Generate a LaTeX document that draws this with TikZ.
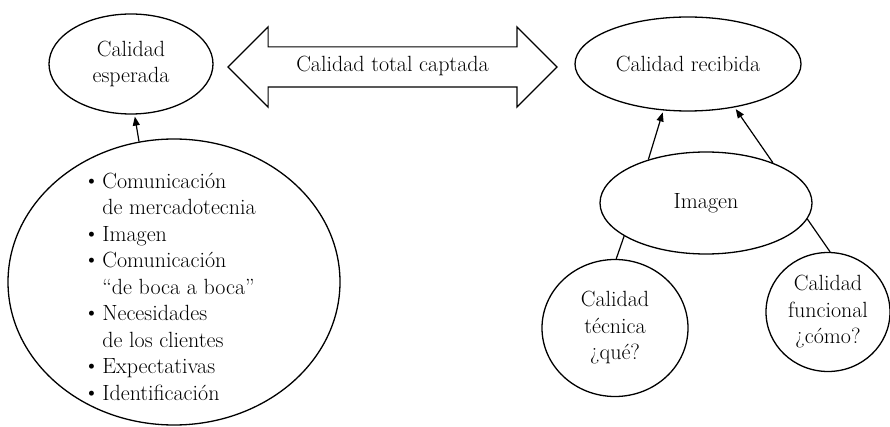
\documentclass[tikz,border=0pt]{standalone}
\usetikzlibrary{shapes.geometric,shapes.arrows,arrows.meta}
\newcommand{\punto}{\raisebox{1pt}[0pt][0pt]{\fontsize{22}{22}\selectfont\textbullet}}
\begin{document}
\begin{tikzpicture}
	[x=1pt,y=-1pt,
		every node/.style={font=\fontsize{22}{26.5}\selectfont},
		oval/.style={ellipse,draw,line width=1.3pt,inner sep=0pt,align=center},
		flecha/.style={-{Triangle[length=9pt,width=7pt]},line width=1.2pt,shorten >=2pt},
		enlace/.style={line width=1.2pt}]
	\useasboundingbox (0,0) rectangle (890,427);
	\node[oval,minimum width=164pt,minimum height=100pt] (esperada) at (131,64) {Calidad\\esperada};
	\node[oval,minimum width=226pt,minimum height=94pt] (recibida) at (688,64) {Calidad recibida};
	\node[double arrow,draw,line width=1.2pt,minimum height=329pt,double arrow head extend=20pt,
		text height=13pt,text depth=4pt,inner ysep=11pt,inner xsep=0pt] (captada) at (392.5,67) {Calidad total captada};
	\node[oval,minimum width=332pt,minimum height=286pt] (lista) at (174,282) {};
	\node[anchor=west,align=left] (items) at (80,289) {%
		\begin{tabular}{@{}l@{\hspace{3pt}}l@{}}
			\punto & Comunicación\\
			& de mercadotecnia\\
			\punto & Imagen\\
			\punto & Comunicación\\
			& ``de boca a boca''\\
			\punto & Necesidades\\
			& de los clientes\\
			\punto & Expectativas\\
			\punto & Identificación
		\end{tabular}};
	\node[oval,minimum width=212pt,minimum height=102pt] (imagen) at (706,203) {Imagen};
	\node[oval,minimum width=146pt,minimum height=137pt] (tecnica) at (615,328) {Calidad\\técnica\\¿qué?};
	\node[oval,minimum width=124pt,minimum height=119pt] (funcional) at (828,312) {Calidad\\funcional\\¿cómo?};
	\draw[flecha] (lista.104.6) -- (esperada.274);
	\draw[flecha] (imagen.143) -- (recibida.242);
	\draw[flecha] (imagen.31) -- (recibida.317);
	\draw[enlace] (imagen.202) -- (tecnica.89);
	\draw[enlace] (imagen.351) -- (funcional.88);
\end{tikzpicture}
\end{document}
